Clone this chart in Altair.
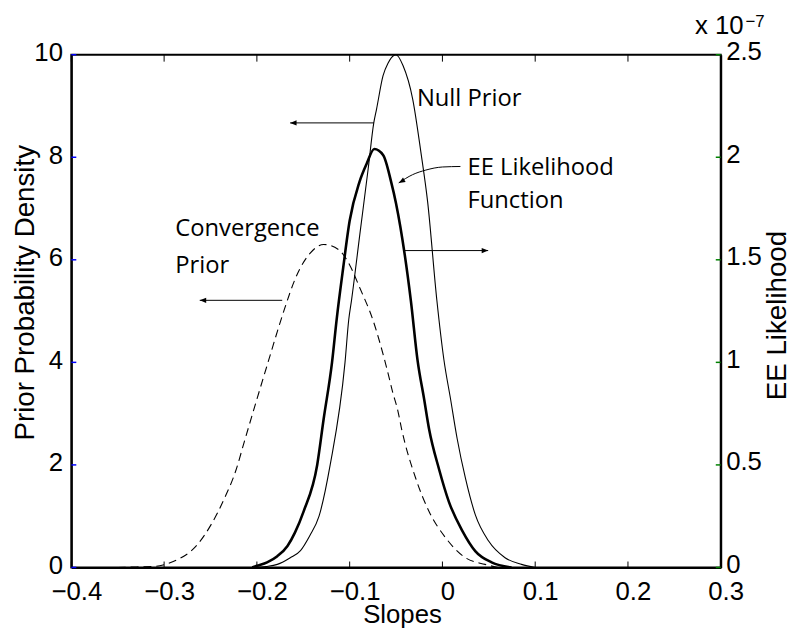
import altair as alt
import pandas as pd

# ---------------- data ----------------
# Null Prior (thin solid, left axis)
null_x = [-0.205, -0.19, -0.178, -0.164, -0.153, -0.143, -0.133, -0.121, -0.105, -0.101,
          -0.098, -0.089, -0.080, -0.074, -0.071, -0.064, -0.0585, -0.052, -0.050, -0.0425,
          -0.032, -0.0233, -0.016, -0.006, 0.0016, 0.0088, 0.0159, 0.0248, 0.0354, 0.0496,
          0.0675, 0.0853, 0.1]
null_y = [0.0, 0.02, 0.06, 0.19, 0.33, 0.62, 1.0, 2.0, 4.0, 4.83,
          5.21, 6.5, 7.78, 8.67, 8.94, 9.59, 9.84, 9.99, 10.0, 9.79,
          9.13, 8.11, 7.14, 5.21, 4.05, 3.28, 2.51, 1.74, 1.03, 0.52,
          0.19, 0.06, 0.0]

# Convergence Prior (dashed, left axis)
conv_x = [-0.35, -0.33, -0.31, -0.299, -0.2847, -0.2669, -0.2492, -0.2349, -0.2225, -0.2136,
          -0.201, -0.185, -0.178, -0.171, -0.157, -0.143, -0.128, -0.112, -0.1, -0.089,
          -0.075, -0.0588, -0.0535, -0.0481, -0.044, -0.0288, -0.0144, 0.0034, 0.0248,
          0.046, 0.06]
conv_y = [0.0, 0.01, 0.02, 0.06, 0.16, 0.39, 0.84, 1.35, 1.9, 2.45,
          3.22, 4.18, 4.6, 5.0, 5.7, 6.12, 6.3, 6.2, 5.9, 5.45,
          4.83, 3.80, 3.41, 3.06, 2.70, 1.74, 1.09, 0.58, 0.19,
          0.06, 0.0]

# EE Likelihood Function (thick solid, right axis, units of 1e-7)
ee_x = [-0.205, -0.2, -0.189, -0.178, -0.167, -0.159, -0.1495, -0.135, -0.128, -0.119,
        -0.114, -0.107, -0.1, -0.0894, -0.082, -0.0734, -0.0638, -0.0553, -0.05, -0.034,
        -0.0268, -0.0197, -0.0144, -0.0037, 0.007, 0.0213, 0.0354, 0.053, 0.0745]
ee_y = [0.0, 0.008, 0.025, 0.055, 0.105, 0.17, 0.275, 0.5, 0.725, 1.0,
        1.21, 1.46, 1.69, 1.88, 1.965, 2.04, 2.01, 1.88, 1.775, 1.30,
        1.01, 0.82, 0.675, 0.48, 0.32, 0.18, 0.08, 0.025, 0.0]

# axis ticks
x_ticks = [-0.4, -0.3, -0.2, -0.1, 0, 0.1, 0.2, 0.3]
left_ticks = [0, 2, 4, 6, 8, 10]
right_ticks = [0, 0.5, 1, 1.5, 2, 2.5]
exp_base = ["x 10"]
exp_power = ["\u22127"]

# annotations (data coordinates on the left axis)
note_text = ["Null Prior", "EE Likelihood", "Function", "Convergence", "Prior"]
note_x = [-0.0275, 0.027, 0.027, -0.288, -0.288]
note_y = [9.0, 7.66, 7.01, 6.47, 5.74]

arrow_start = [-0.0738, -0.1727, -0.0414]
arrow_end = [-0.1642, -0.2616, 0.0493]
arrow_y = [8.67, 5.21, 6.18]

curve_x = [-0.0471, -0.0322, -0.0179, 0.0, 0.0194]
curve_y = [7.50, 7.66, 7.75, 7.81, 7.82]

head_x = arrow_end + [curve_x[0]]
head_y = arrow_y + [curve_y[0]]
head_angle = [180, 180, 0, 150]

# ---------------- tables ----------------
df_null = pd.DataFrame({"x": null_x, "y": null_y})
df_conv = pd.DataFrame({"x": conv_x, "y": conv_y})
df_ee = pd.DataFrame({"x": ee_x, "y": ee_y})
df_notes = pd.DataFrame({"x": note_x, "y": note_y, "label": note_text})
df_arrows = pd.DataFrame({"x": arrow_start, "x2": arrow_end, "y": arrow_y})
df_curve = pd.DataFrame({"x": curve_x, "y": curve_y})
df_heads = pd.DataFrame({"x": head_x, "y": head_y, "angle": head_angle})
df_xt = pd.DataFrame({"x": x_ticks})
df_lt = pd.DataFrame({"y": left_ticks})
df_rt = pd.DataFrame({"y": right_ticks})
df_exp_base = pd.DataFrame({"t": exp_base})
df_exp_power = pd.DataFrame({"t": exp_power})

W, H = 656, 518
AXIS_FONT = "Liberation Sans"
NOTE_FONT = "Open Sans"
HEAD = "M 0 0 L -1 -0.4 L -1 0.4 Z"

x_enc = alt.X(
    "x:Q",
    scale=alt.Scale(domain=[-0.4, 0.3], nice=False, zero=False),
    axis=alt.Axis(values=x_ticks, format="~g", title="Slopes",
                  labelBaseline="alphabetic", labelPadding=32, labelOffset=5,
                  labelFlush=False, titleX=334, titleY=56, titleFontSize=26,
                  titleBaseline="alphabetic", titleAlign="center"),
)
yl_enc = alt.Y(
    "y:Q",
    scale=alt.Scale(domain=[0, 10], nice=False),
    axis=alt.Axis(values=left_ticks, format="d", title="Prior Probability Density",
                  orient="left", labelPadding=9, labelOffset=-2, titleX=-46, titleY=240,
                  titleAngle=270, titleBaseline="middle", titleAlign="center"),
)
yr_enc = alt.Y(
    "y:Q",
    scale=alt.Scale(domain=[0, 2.5], nice=False),
    axis=alt.Axis(values=right_ticks, format="~g", title="EE Likelihood",
                  orient="right", labelPadding=5, labelOffset=-3, titleX=57, titleY=263,
                  titleAngle=270, titleBaseline="middle", titleAlign="center"),
)

# ---------------- left-axis group ----------------
null_line = alt.Chart(df_null).mark_line(
    color="black", strokeWidth=1.1, interpolate="monotone").encode(x=x_enc, y=yl_enc)
conv_line = alt.Chart(df_conv).mark_line(
    color="black", strokeWidth=1.1, strokeDash=[8, 5], interpolate="monotone").encode(x=x_enc, y=yl_enc)
curve = alt.Chart(df_curve).mark_line(
    color="black", strokeWidth=1, interpolate="monotone").encode(x=x_enc, y=yl_enc)
arrows = alt.Chart(df_arrows).mark_rule(color="black", strokeWidth=1).encode(x=x_enc, x2="x2:Q", y=yl_enc)
heads = alt.Chart(df_heads).mark_point(
    shape=HEAD, filled=True, color="black", size=170, opacity=1, strokeWidth=0
).encode(x=x_enc, y=yl_enc, angle=alt.Angle("angle:Q", scale=None))
notes = alt.Chart(df_notes).mark_text(
    font=NOTE_FONT, fontSize=24, align="left", baseline="alphabetic", color="black"
).encode(x=x_enc, y=yl_enc, text="label:N")
xt_bottom = alt.Chart(df_xt).mark_rule(color="black", strokeWidth=1).encode(
    x=x_enc, y=alt.value(H), y2=alt.value(H - 6))
xt_top = alt.Chart(df_xt).mark_rule(color="black", strokeWidth=1).encode(
    x=x_enc, y=alt.value(0), y2=alt.value(7))
yl_ticks = alt.Chart(df_lt).mark_rule(color="#0000ff", strokeWidth=1.5).encode(
    y=yl_enc, x=alt.value(0), x2=alt.value(5))

left = alt.layer(null_line, conv_line, curve, arrows, heads, notes, xt_bottom, xt_top, yl_ticks)

# ---------------- right-axis group ----------------
ee_line = alt.Chart(df_ee).mark_line(
    color="black", strokeWidth=2.6, interpolate="monotone").encode(x=x_enc, y=yr_enc)
yr_ticks = alt.Chart(df_rt).mark_rule(color="#008000", strokeWidth=1.5).encode(
    y=yr_enc, x=alt.value(W), x2=alt.value(W - 5))
exp_txt = alt.Chart(df_exp_base).mark_text(
    font=AXIS_FONT, fontSize=26, align="left", baseline="alphabetic", color="black"
).encode(x=alt.value(630), y=alt.value(-21), text="t:N")
exp_sup = alt.Chart(df_exp_power).mark_text(
    font=AXIS_FONT, fontSize=17, align="left", baseline="alphabetic", color="black"
).encode(x=alt.value(681), y=alt.value(-28), text="t:N")

right = alt.layer(ee_line, yr_ticks, exp_txt, exp_sup)

chart = (
    alt.layer(left, right)
    .resolve_scale(y="independent")
    .properties(
        width=W, height=H,
        autosize=alt.AutoSizeParams(type="none"),
        padding={"left": 64, "top": 44, "right": 72, "bottom": 60},
        background="white",
    )
    .configure_view(stroke="black", strokeWidth=2)
    .configure_axis(
        domainColor="black", domainWidth=2, ticks=False, tickSize=0, grid=False,
        labelFont=AXIS_FONT, labelFontSize=26, labelColor="black", labelOverlap=False,
        titleFont=AXIS_FONT, titleFontSize=28, titleFontWeight="normal", titleColor="black",
    )
)

chart.save("out.html", embed_options={"renderer": "svg", "actions": False})
